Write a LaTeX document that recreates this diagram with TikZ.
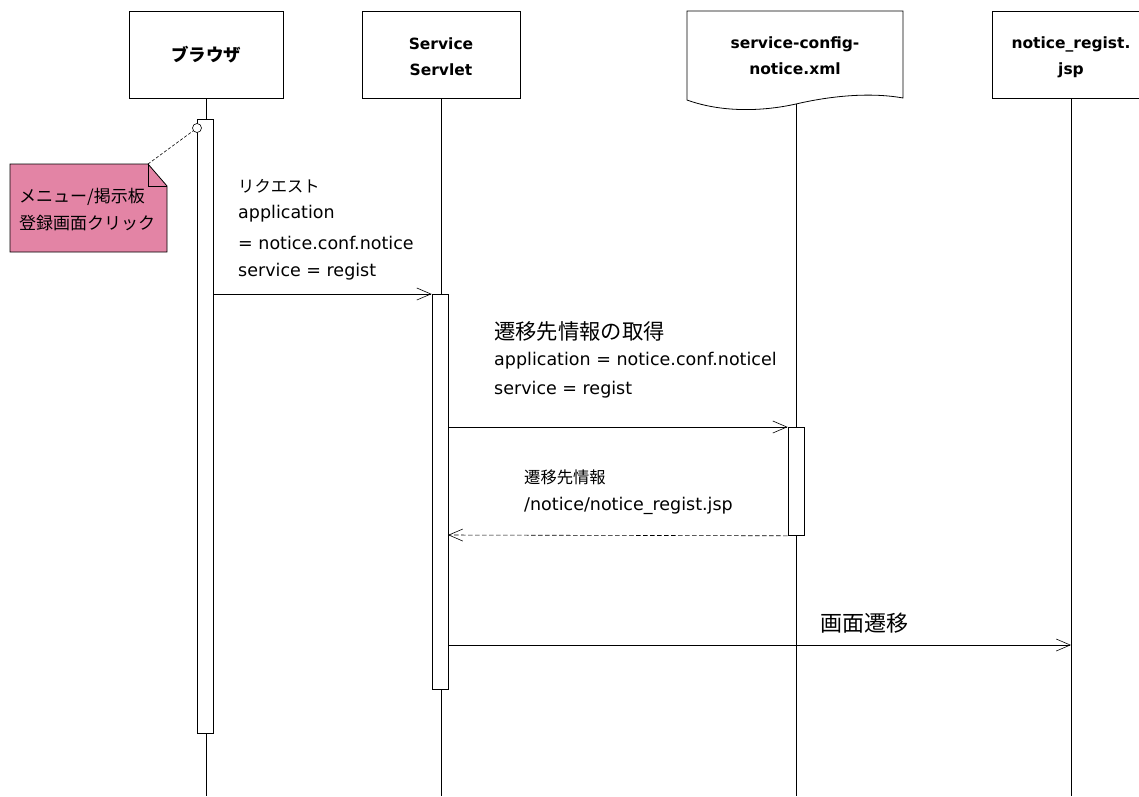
\documentclass[tikz,border=0pt]{standalone}
\usepackage{fontspec}
\setmainfont{DejaVu Sans}
\newfontfamily\jp{Noto Sans CJK JP}
\usetikzlibrary{arrows.meta}
\definecolor{notepink}{RGB}{227,132,165}
\begin{document}
\begin{tikzpicture}[x=1pt,y=-1pt,
  head/.style={draw, line width=0.8pt, fill=white, align=center, inner sep=0,
    minimum height=87pt},
  htext/.style={align=center, inner sep=0, font=\bfseries\fontsize{15.5}{26}\selectfont},
  bar/.style={draw, fill=white, line width=0.8pt, inner sep=0, minimum width=16pt, anchor=north},
  life/.style={line width=0.6pt},
  msg/.style={-{Straight Barb[length=14pt,width=12pt]}, line width=0.6pt},
  ret/.style={msg, dash pattern=on 4.5pt off 2.5pt},
  lat/.style={anchor=west, inner sep=0, font=\fontsize{17.5}{20}\selectfont},
  jpl/.style={anchor=west, inner sep=0, font=\jp\fontsize{16.3}{20}\selectfont},
]
\useasboundingbox (0,0) rectangle (1139,796);
\clip (0,0) rectangle (1139,796);

% heads
\node[head, minimum width=154pt] (br) at (206,54.5) {};
\node[inner sep=0, font=\jp\bfseries\fontsize{17.5}{20}\selectfont] (brt) at (br.center) {ブラウザ};
\node[head, minimum width=158pt] (sv) at (441,54.5) {};
\node[htext] (svt) at (441,57) {Service\\Servlet};
\draw[line width=0.8pt, fill=white] (687,11) -- (903,11) -- (903,98)
  .. controls (870,92) and (830,96) .. (796,104)
  .. controls (760,112) and (720,112) .. (687,100) -- cycle;
\node[htext] (xml) at (795,56) {service-config-\\notice.xml};
\node[head, minimum width=158pt] (jsp) at (1071,54.5) {};
\node[htext] (jspt) at (1071,57) {notice\_regist.\\jsp};

% lifeline ends
\coordinate (brend) at (206,796);
\coordinate (svend) at (441,796);
\coordinate (xmlend) at (796,796);
\coordinate (jspend) at (1071,796);
\coordinate (xmltop) at (796,104);
\draw[life] (br.south) -- (brend);
\draw[life] (sv.south) -- (svend);
\draw[life] (xmltop) -- (xmlend);
\draw[life] (jsp.south) -- (jspend);

% activation bars
\node[bar, minimum height=614pt] (brbar) at (205,119) {};
\node[bar, minimum height=395pt] (svbar) at (440,294) {};
\node[bar, minimum height=108pt] (xmlbar) at (796,427) {};

% note
\fill[notepink, draw=black, line width=0.8pt] (10,164) -- (148,164) -- (167,186) -- (167,252) -- (10,252) -- cycle;
\draw[line width=0.8pt] (148,164) -- (148,186) -- (167,186);
\node[align=left, inner sep=0, font=\jp\fontsize{17}{27}\selectfont, anchor=west] (note) at (19,209.5) {メニュー/掲示板\\登録画面クリック};
\coordinate (nc) at (148,164);
\node[circle, draw, fill=white, inner sep=0, minimum size=9pt, line width=0.6pt] (anc) at (197,128) {};
\draw[line width=0.6pt, dash pattern=on 3pt off 2pt] (nc) -- (anc);

% messages
\coordinate (m1s) at (213,294);
\draw[msg] (m1s) -- (svbar.north west);
\coordinate (m2s) at (448,427);
\draw[msg] (m2s) -- (xmlbar.north west);
\coordinate (m3e) at (448,535);
\draw[ret] (xmlbar.south west) -- (m3e);
\coordinate (m4s) at (448,645);
\coordinate (m4e) at (1071,645);
\draw[msg] (m4s) -- (m4e);

% labels
\node[jpl] (l1a) at (238,186) {リクエスト};
\node[lat] (l1b) at (238,214) {application};
\node[lat] (l1c) at (238,243) {= notice.conf.notice};
\node[lat] (l1d) at (238,272) {service = regist};

\node[jpl, font=\jp\fontsize{21.3}{24}\selectfont] (l2a) at (494,331) {遷移先情報の取得};
\node[lat] (l2b) at (494,361) {application = notice.conf.noticel};
\node[lat] (l2c) at (494,390) {service = regist};

\node[jpl] (l3a) at (524,477) {遷移先情報};
\node[lat] (l3b) at (524,506) {/notice/notice\_regist.jsp};

\node[jpl, font=\jp\fontsize{22}{24}\selectfont] (l4a) at (820,623) {画面遷移};
\end{tikzpicture}
\end{document}
